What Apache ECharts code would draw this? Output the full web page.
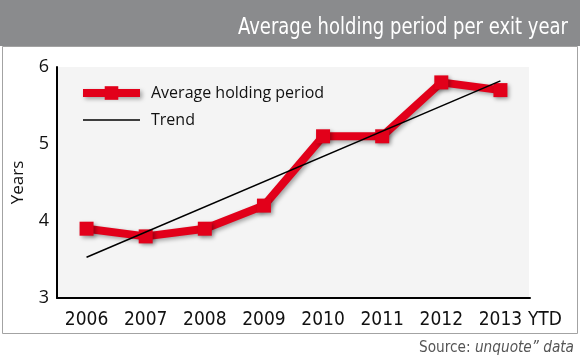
<!DOCTYPE html>
<html>
<head>
<meta charset="utf-8">
<script src="https://cdn.jsdelivr.net/npm/echarts@6/dist/echarts.min.js"></script>
<style>
html,body{margin:0;padding:0;background:#fff;}
#c{width:580px;height:358px;}
</style>
</head>
<body>
<div id="c"></div>
<script>
var categories = ['2006','2007','2008','2009','2010','2011','2012','2013 YTD'];
var holdingPeriod = [3.9, 3.8, 3.9, 4.2, 5.1, 5.1, 5.8, 5.7];
var trendValues = [3.53, null, null, null, null, null, null, 5.82];
var yTicks = {min: 3, max: 6, interval: 1};
var titleText = 'Average holding period per exit year';
var yName = 'Years';

var chart = echarts.init(document.getElementById('c'), null, {renderer: 'canvas'});
var narrow = '"DejaVu Sans Condensed", "Liberation Sans Narrow", sans-serif';
var humanist = '"Open Sans", "Noto Sans", sans-serif';

chart.setOption({
  animation: false,
  backgroundColor: '#ffffff',
  graphic: [
    {type: 'rect', z: -10, shape: {x: 0, y: 0, width: 580, height: 46}, style: {fill: '#8a8b8d'}},
    {type: 'rect', z: -10, shape: {x: 2.5, y: 46.5, width: 575, height: 287}, style: {fill: '#ffffff', stroke: '#a3a3a3', lineWidth: 1}},
    {type: 'rect', z: -9, shape: {x: 57, y: 67, width: 472, height: 231}, style: {fill: '#f4f4f4'}},
    {type: 'text', z: 10, x: 568, y: 28, scaleX: 0.87, style: {text: titleText, fill: '#ffffff', font: '23px ' + narrow, textAlign: 'right', textVerticalAlign: 'middle'}},
    {type: 'text', z: 10, x: 574, y: 348, scaleX: 0.95, style: {
      text: '{n|Source: }{i|unquote” data}',
      textAlign: 'right',
      textVerticalAlign: 'middle',
      rich: {
        n: {fill: '#555555', font: '16px ' + narrow},
        i: {fill: '#555555', font: 'italic 16px ' + narrow}
      }
    }}
  ],
  grid: {left: 57, right: 50, top: 67, bottom: 60},
  legend: {
    orient: 'vertical',
    left: 79,
    top: 85,
    padding: 0,
    itemWidth: 57,
    itemHeight: 17,
    itemGap: 11,
    data: [
      {name: 'Average holding period', lineStyle: {width: 8, color: '#e2001a', shadowColor: 'rgba(0,0,0,0.35)', shadowBlur: 4, shadowOffsetX: 2, shadowOffsetY: 2}},
      {name: 'Trend', lineStyle: {width: 1.5, color: '#000'}, itemStyle: {opacity: 0, color: 'rgba(0,0,0,0)'}}
    ],
    textStyle: {fontFamily: humanist, fontSize: 16, color: '#111', padding: [0, 0, 0, 6]}
  },
  xAxis: {
    type: 'category',
    data: categories,
    boundaryGap: true,
    axisLine: {lineStyle: {color: '#000', width: 2}},
    axisTick: {inside: true, length: 7, lineStyle: {color: '#000', width: 2}},
    axisLabel: {
      color: '#111',
      fontFamily: narrow,
      fontSize: 19,
      margin: 13,
      interval: 0,
      formatter: function (v) {
        var parts = v.split(' ');
        if (parts.length > 1) {
          return '{p|}{a|' + parts[0] + '}{b| ' + parts.slice(1).join(' ') + '}';
        }
        return v;
      },
      rich: {
        p: {width: 40, fontFamily: narrow, fontSize: 19},
        a: {fontFamily: narrow, fontSize: 19, color: '#111'},
        b: {width: 40, align: 'left', fontFamily: narrow, fontSize: 19, color: '#111'}
      }
    },
    splitLine: {show: false}
  },
  yAxis: {
    type: 'value',
    min: yTicks.min,
    max: yTicks.max,
    interval: yTicks.interval,
    name: yName,
    nameLocation: 'middle',
    nameGap: 30,
    nameTextStyle: {fontFamily: humanist, fontSize: 17, color: '#111'},
    axisLine: {show: true, lineStyle: {color: '#000', width: 2}},
    axisTick: {show: false},
    axisLabel: {color: '#111', fontFamily: humanist, fontSize: 18, margin: 8},
    splitLine: {show: false}
  },
  series: [
    {
      name: 'Average holding period',
      type: 'line',
      data: holdingPeriod,
      symbol: 'rect',
      symbolSize: 14,
      z: 3,
      lineStyle: {color: '#e2001a', width: 8, shadowColor: 'rgba(0,0,0,0.35)', shadowBlur: 4, shadowOffsetX: 2, shadowOffsetY: 2},
      itemStyle: {color: '#e2001a', borderWidth: 0, shadowColor: 'rgba(0,0,0,0.35)', shadowBlur: 4, shadowOffsetX: 2, shadowOffsetY: 2}
    },
    {
      name: 'Trend',
      type: 'line',
      data: trendValues,
      connectNulls: true,
      symbol: 'none',
      z: 4,
      lineStyle: {color: '#000', width: 1.5},
      itemStyle: {color: '#000'}
    }
  ]
});
</script>
</body>
</html>
